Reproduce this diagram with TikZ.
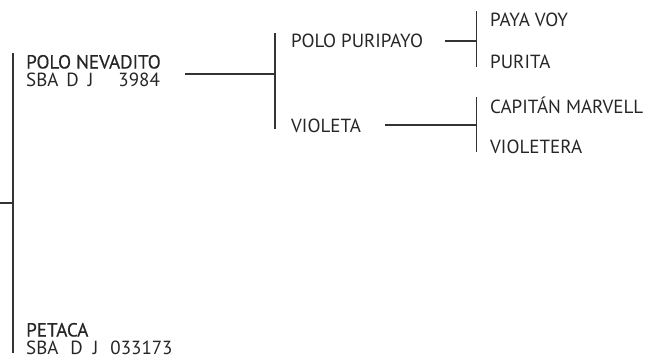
\documentclass[tikz,border=0pt]{standalone}
\usepackage{fontspec}
\setmainfont{PT Sans}
\newfontfamily\medfont[FakeBold=0.5]{PT Sans}
\begin{document}
\begin{tikzpicture}[x=1pt,y=-1pt,
  conn/.style={draw=black!80, line width=1.1pt},
  lbl/.style={anchor=base west, inner sep=0pt, text=black!85, font=\fontsize{19}{20}\selectfont},
  namelbl/.style={lbl, font=\fontsize{19}{20}\selectfont\medfont}]
\useasboundingbox (0,0) rectangle (651,359);
% labels
\node[namelbl] (pn)  at (26,68.5)  {POLO NEVADITO};
\node[lbl]     (pnr) at (26,86)  {SBA\hspace{8pt}D\hspace{9pt}J\hspace{25pt}3984};
\node[namelbl] (pe)  at (26,336.5) {PETACA};
\node[lbl]     (per) at (26,354) {SBA\hspace{12pt}D\hspace{10pt}J\hspace{12pt}033173};
\node[lbl] (pp)  at (291,47)  {POLO PURIPAYO};
\node[lbl] (vi)  at (291,132) {VIOLETA};
\node[lbl] (pv)  at (490,26)  {PAYA VOY};
\node[lbl] (pu)  at (490,68)  {PURITA};
\node[lbl] (cm)  at (490,113) {CAPITÁN MARVELL};
\node[lbl] (vt)  at (490,153) {VIOLETERA};
% connector points
\coordinate (s0) at (0,203);
\coordinate (b0t) at (13,53);
\coordinate (b0b) at (13,353);
\coordinate (b0m) at (13,203);
\coordinate (h1a) at (185,74);
\coordinate (b1m) at (275,74);
\coordinate (b1t) at (275,33);
\coordinate (b1b) at (275,129);
\coordinate (h2a) at (445,41);
\coordinate (b2m) at (476.5,41);
\coordinate (b2t) at (476.5,11);
\coordinate (b2b) at (476.5,67);
\coordinate (h3a) at (385,125);
\coordinate (b3m) at (476.5,125);
\coordinate (b3t) at (476.5,97);
\coordinate (b3b) at (476.5,152);
% connectors
\draw[conn] (s0) -- (b0m);
\draw[conn] (b0t) -- (b0b);
\draw[conn] (h1a) -- (b1m);
\draw[conn] (b1t) -- (b1b);
\draw[conn] (h2a) -- (b2m);
\draw[conn] (b2t) -- (b2b);
\draw[conn] (h3a) -- (b3m);
\draw[conn] (b3t) -- (b3b);
\end{tikzpicture}
\end{document}
